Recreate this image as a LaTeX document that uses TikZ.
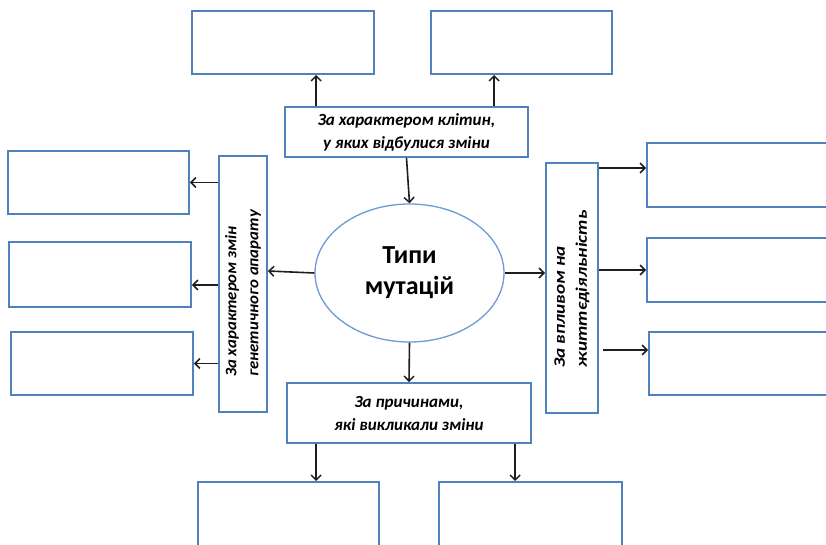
\documentclass[tikz,border=0pt]{standalone}
\usepackage{fontspec}
\setmainfont{Carlito}
\usetikzlibrary{shapes.geometric,arrows.meta}
\definecolor{boxblue}{RGB}{79,129,189}
\definecolor{ellblue}{RGB}{110,155,210}
\definecolor{arrgray}{RGB}{30,30,30}
\tikzset{
  box/.style={draw=boxblue, line width=1.8pt, fill=white, inner sep=0pt},
  lbl/.style={font=\fontsize{17}{23}\selectfont\bfseries\itshape, align=center, inner sep=0pt},
  vlbl/.style={font=\fontsize{16}{22}\selectfont\bfseries\itshape, align=left, inner sep=0pt, rotate=90, anchor=west},
  arr/.style={draw=arrgray, line width=1.6pt, -{Straight Barb[length=5pt,width=10pt,line width=1.5pt]}},
}
\begin{document}
\begin{tikzpicture}[x=1pt,y=-1pt]
\clip (0,0) rectangle (826,545);
\fill[white] (0,0) rectangle (826,545);
% top
\node[box, minimum width=182pt, minimum height=63pt] (tl) at (283,42.5) {};
\node[box, minimum width=181pt, minimum height=63pt] (tr) at (521.5,42.5) {};
\node[box, minimum width=243pt, minimum height=50pt] (tc) at (406.5,132) {};
\node[lbl] (tct) at (406.5,132) {За характером клітин,\\у яких відбулися зміни};
% centre
\node[ellipse, draw=ellblue, line width=1.3pt, minimum width=189pt, minimum height=138pt, fill=white,
  font=\fontsize{26}{31}\selectfont\bfseries, align=center] (ell) at (409.5,273) {Типи\\мутацій};
% left
\node[box, minimum width=48pt, minimum height=256pt] (lv) at (243,284) {};
\node[vlbl, xscale=1.05] (lvt) at (243,377) {За характером змін\\генетичного апарату};
\node[box, minimum width=181pt, minimum height=63pt] (l1) at (98.5,182.5) {};
\node[box, minimum width=182pt, minimum height=65pt] (l2) at (100,274.5) {};
\node[box, minimum width=182pt, minimum height=63pt] (l3) at (102,363.5) {};
% right
\node[box, minimum width=52pt, minimum height=250pt] (rv) at (572,288) {};
\node[vlbl, xscale=1.2] (rvt) at (572,368) {За впливом на\\життєдіяльність};
\node[box, minimum width=183pt, minimum height=64pt] (r1) at (738.5,175) {};
\node[box, minimum width=183pt, minimum height=64pt] (r2) at (738.5,270) {};
\node[box, minimum width=183pt, minimum height=63pt] (r3) at (740.5,363.5) {};
% bottom
\node[box, minimum width=244pt, minimum height=60pt] (bc) at (409,413) {};
\node[lbl] (bct) at (409,413) {За причинами,\\які викликали зміни};
\node[box, minimum width=181pt, minimum height=66pt] (bl) at (288.5,515) {};
\node[box, minimum width=183pt, minimum height=66pt] (br) at (530.5,515) {};
% helper points
\coordinate (t1) at ([xshift=32pt]tc.north west);
\coordinate (t2) at ([xshift=210pt]tc.north west);
\coordinate (b1) at ([xshift=30pt]bc.south west);
\coordinate (b2) at ([xshift=229pt]bc.south west);
\coordinate (a2) at ([yshift=-10.5pt]l2.east);
\coordinate (c1) at ([yshift=7pt]r1.west);
\coordinate (c3) at ([yshift=13.5pt]r3.west);
\coordinate (lvin) at ([yshift=13pt]lv.east);
% arrows
\draw[arr] (t1) -- (t1 |- tl.south);
\draw[arr] (t2) -- (t2 |- tr.south);
\draw[arr] (tc.south) -- (ell.north);
\draw[arr] (ell.south) -- (bc.north);
\draw[arr] (b1) -- (b1 |- bl.north);
\draw[arr] (b2) -- (b2 |- br.north);
\draw[arr] (ell.west) -- (lvin);
\draw[arr] (ell.east) -- (ell.east -| rv.west);
\draw[arr] (lv.west |- l1.east) -- (l1.east);
\draw[arr] (a2 -| lv.west) -- (a2);
\draw[arr] (lv.west |- l3.east) -- (l3.east);
\draw[arr] (c1 -| rv.east) -- (c1);
\draw[arr] (rv.east |- r2.west) -- (r2.west);
\draw[arr] ([xshift=4pt]c3 -| rv.east) -- (c3);
\end{tikzpicture}
\end{document}
